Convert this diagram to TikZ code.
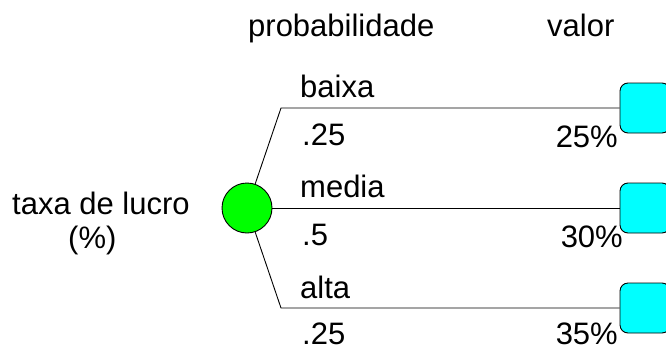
\documentclass[tikz,border=0pt]{standalone}
\usepackage{fontspec}
\setmainfont{Liberation Sans}
\begin{document}
\begin{tikzpicture}[x=1pt,y=-1pt,
  lbl/.style={anchor=base west,inner sep=0pt,font=\fontsize{31}{37}\selectfont},
  lblr/.style={anchor=base east,inner sep=0pt,font=\fontsize{31}{37}\selectfont},
  chance/.style={circle,draw=black,fill={rgb,255:red,0;green,255;blue,0},line width=0.9pt,minimum size=50pt,inner sep=0pt},
  term/.style={rectangle,rounded corners=8pt,draw=black,fill={rgb,255:red,0;green,255;blue,255},line width=0.9pt,minimum width=50pt,minimum height=50pt,inner sep=0pt},
  branch/.style={line width=0.9pt}]
\useasboundingbox (0,0) rectangle (666,351);
% header
\node[lbl] (hp) at (248,36) {probabilidade};
\node[lbl] (hv) at (547,36) {valor};
% root label
\node[lbl] (t1) at (12,214) {taxa de lucro};
\node[lbl] (t2) at (68,248) {(\%)};
% chance node
\node[chance] (c) at (247,208) {};
% terminal nodes
\node[term] (b1) at (645,108) {};
\node[term] (b2) at (645,208) {};
\node[term] (b3) at (645,308) {};
% elbows
\coordinate (e1) at (281,108);
\coordinate (e3) at (281,308);
\draw[branch] (c) -- (e1) -- (b1.west);
\draw[branch] (c) -- (b2.west);
\draw[branch] (c) -- (e3) -- (b3.west);
% branch labels
\node[lbl] (n1) at (300,97) {baixa};
\node[lbl] (p1) at (302,145) {.25};
\node[lbl] (n2) at (300,197) {media};
\node[lbl] (p2) at (302,245) {.5};
\node[lbl] (n3) at (300,298) {alta};
\node[lbl] (p3) at (302,344) {.25};
% values
\node[lblr] (v1) at (618,147) {25\%};
\node[lblr] (v2) at (623,247) {30\%};
\node[lblr] (v3) at (618,344) {35\%};
\end{tikzpicture}
\end{document}
